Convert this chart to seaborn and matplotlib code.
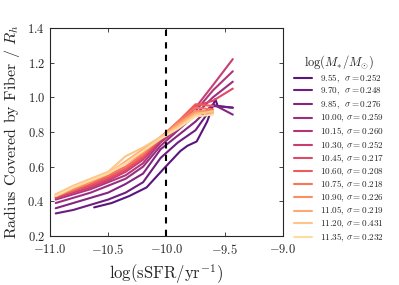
import numpy as np
import pandas as pd
import matplotlib
matplotlib.use("Agg")
import matplotlib.pyplot as plt
import seaborn as sns

masses = ["9.55", "9.70", "9.85", "10.00", "10.15", "10.30", "10.45",
          "10.60", "10.75", "10.90", "11.05", "11.20", "11.35"]
sigmas = ["0.252", "0.248", "0.276", "0.259", "0.260", "0.252", "0.217",
          "0.208", "0.218", "0.226", "0.219", "0.431", "0.232"]

x_grid = [-10.95, -10.8, -10.65, -10.5, -10.35, -10.2, -10.05, -9.9, -9.75, -9.6, -9.43]
x_955 = [-10.62, -10.47, -10.32, -10.17, -10.02, -9.88, -9.82, -9.74, -9.65, -9.58, -9.56, -9.43]
y_955 = [0.365, 0.39, 0.43, 0.48, 0.59, 0.69, 0.72, 0.745, 0.86, 0.99, 0.95, 0.94]

y_970 = [0.33, 0.35, 0.38, 0.41, 0.45, 0.51, 0.65, 0.74, 0.81, 0.95, 0.94]
y_985 = [0.36, 0.39, 0.42, 0.45, 0.50, 0.56, 0.70, 0.78, 0.86, 0.96, 0.90]
y_1000 = [0.39, 0.42, 0.45, 0.49, 0.53, 0.60, 0.72, 0.81, 0.90, 1.00, 1.09]
y_1015 = [0.41, 0.44, 0.47, 0.51, 0.55, 0.62, 0.74, 0.82, 0.92, 1.04, 1.15]
y_1030 = [0.42, 0.45, 0.48, 0.52, 0.57, 0.64, 0.75, 0.84, 0.94, 1.07, 1.22]
y_1045 = [0.42, 0.46, 0.49, 0.53, 0.58, 0.65, 0.76, 0.85, 0.95, 0.98, 1.05]
y_1060 = [0.43, 0.46, 0.50, 0.54, 0.59, 0.66, 0.76, 0.86, 0.96, 0.95, np.nan]
y_1075 = [0.43, 0.47, 0.51, 0.55, 0.60, 0.67, 0.77, 0.86, 0.94, 0.93, np.nan]
y_1090 = [0.43, 0.47, 0.51, 0.56, 0.62, 0.68, 0.77, 0.85, 0.92, 0.92, np.nan]
y_1105 = [0.44, 0.48, 0.52, 0.56, 0.63, 0.70, 0.77, 0.84, 0.91, 0.91, np.nan]
y_1120 = [0.44, 0.49, 0.53, 0.57, 0.66, 0.71, 0.77, 0.83, 0.90, 0.92, np.nan]
y_1135 = [0.43, 0.48, 0.52, 0.56, 0.62, 0.69, 0.76, 0.82, 0.89, 0.90, np.nan]

series = [(x_955, y_955), (x_grid, y_970), (x_grid, y_985), (x_grid, y_1000),
          (x_grid, y_1015), (x_grid, y_1030), (x_grid, y_1045), (x_grid, y_1060),
          (x_grid, y_1075), (x_grid, y_1090), (x_grid, y_1105), (x_grid, y_1120),
          (x_grid, y_1135)]

labels = []
for m, s in zip(masses, sigmas):
    pad = r"\ " if len(m) == 4 else ""
    labels.append(m + r",$\ " + pad + r"\sigma=" + s + "$")

rows = []
for lab, (xs, ys) in zip(labels, series):
    for xv, yv in zip(xs, ys):
        if not np.isnan(yv):
            rows.append({"x": xv, "y": yv, "label": lab})
df = pd.DataFrame(rows)

sns.set_style("ticks")
plt.rcParams["font.family"] = ["cmr10", "DejaVu Serif"]
plt.rcParams["mathtext.fontset"] = "cm"
plt.rcParams["axes.formatter.use_mathtext"] = True
plt.rcParams["axes.unicode_minus"] = True

palette = [matplotlib.colormaps["magma"](v) for v in np.linspace(0.27, 0.93, len(masses))]

fig = plt.figure(figsize=(3.99, 2.85), dpi=100)
ax = fig.add_axes([0.125, 0.172, 0.584, 0.730])

sns.lineplot(data=df, x="x", y="y", hue="label", hue_order=labels, palette=palette,
             sort=False, estimator=None, linewidth=1.5, ax=ax, legend=False)
ax.axvline(-10.0, color="black", linestyle="--", linewidth=1.5, dashes=(3, 3))

ax.set_xlim(-11, -9)
ax.set_ylim(0.2, 1.4)
ax.set_xticks([-11.0, -10.5, -10.0, -9.5, -9.0])
ax.set_yticks([0.2, 0.4, 0.6, 0.8, 1.0, 1.2, 1.4])
ax.xaxis.set_major_formatter(matplotlib.ticker.FormatStrFormatter(r"$%.1f$"))
ax.yaxis.set_major_formatter(matplotlib.ticker.FormatStrFormatter(r"$%.1f$"))
ax.tick_params(direction="in", top=True, right=True, labelsize=9, length=3, width=0.6)
ax.tick_params(axis="x", pad=5)
for sp in ax.spines.values():
    sp.set_linewidth(0.8)
ax.set_xlabel(r"$\log(\mathrm{sSFR}/\mathrm{yr}^{-1})$", fontsize=12)
ax.set_ylabel(r"Radius Covered by Fiber / $R_h$", fontsize=11.5)

handles = [plt.Line2D([], [], color=c, linewidth=1.5) for c in palette]
leg = ax.legend(handles, labels, loc="upper left", bbox_to_anchor=(1.03, 0.895),
                frameon=False, fontsize=6.6, title=r"$\log(M_{*}/M_{\odot})$",
                title_fontsize=9, handlelength=2.0, handletextpad=0.9,
                labelspacing=0.12, borderaxespad=0.0)

fig.savefig("out.png", dpi=100)
